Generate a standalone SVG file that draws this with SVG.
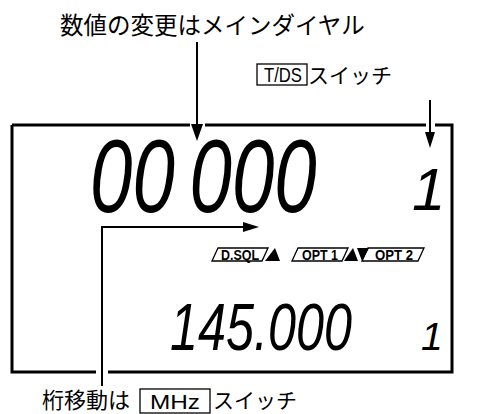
<svg xmlns="http://www.w3.org/2000/svg" width="499" height="414" viewBox="0 0 499 414">
<style>
.jp{font-family:"Noto Sans CJK JP","Noto Sans",sans-serif;fill:#000}
.lat{font-family:"Liberation Sans",Arial,sans-serif;fill:#000}
.seg{font-family:"Liberation Sans",Arial,sans-serif;font-style:italic;font-weight:normal;fill:#000}
.ind{font-family:"Liberation Sans",Arial,sans-serif;font-weight:bold;font-size:14px;fill:#000;text-anchor:middle}
.ln{stroke:#000;fill:none;stroke-width:2}
.frame{stroke:#000;fill:none;stroke-width:3}
.box{stroke:#000;fill:none;stroke-width:1.3}
.tri{fill:#000}
</style>
<rect width="499" height="414" fill="#fff"/>

<g id="display">
  <path class="frame" d="M12 125 H190 M205 125 H426 M435 125 H452 V372 H108 M96 372 H12 V125"/>
</g>

<g id="main-digits">
  <text class="seg" transform="translate(90 212) scale(0.74 1)" font-size="103">00<tspan dx="20">000</tspan></text>
  <text class="seg" x="412" y="210" font-size="60">1</text>
</g>

<g id="indicators">
  <path class="box" d="M212 261 L218 248 L268 248 L262 261 Z"/>
  <text class="ind" x="240" y="260" textLength="38" lengthAdjust="spacingAndGlyphs">D.SQL</text>
  <polygon class="tri" points="265,261 275,248 280,261"/>
  <path class="box" d="M292 261 L298 248 L348 248 L342 261 Z"/>
  <text class="ind" x="320" y="260" textLength="36" lengthAdjust="spacingAndGlyphs">OPT 1</text>
  <polygon class="tri" points="344,261 353,248 358,261"/>
  <polygon class="tri" points="357,248 369,248 362,261"/>
  <path class="box" d="M362 261 L368 248 L424 248 L418 261 Z"/>
  <text class="ind" x="394" y="260" textLength="38" lengthAdjust="spacingAndGlyphs">OPT 2</text>
</g>

<g id="sub-digits">
  <text class="seg" x="170" y="350" font-size="67" textLength="182" lengthAdjust="spacingAndGlyphs">145.000</text>
  <text class="seg" x="421" y="350" font-size="39">1</text>
</g>

<g id="label-dial">
  <text class="jp" x="60" y="34" font-size="23.5">数値の変更はメインダイヤル</text>
</g>

<g id="label-tds">
  <rect class="box" x="257" y="64" width="50" height="21"/>
  <text class="lat" x="283" y="82" font-size="21" text-anchor="middle" textLength="38" lengthAdjust="spacingAndGlyphs">T/DS</text>
  <text class="jp" x="308" y="83" font-size="21">スイッチ</text>
</g>

<g id="label-mhz">
  <text class="jp" x="42" y="408" font-size="22">桁移動は</text>
  <rect class="box" x="140" y="389" width="70" height="24"/>
  <text class="lat" x="175" y="409" font-size="21" text-anchor="middle" textLength="50" lengthAdjust="spacingAndGlyphs">MHz</text>
  <text class="jp" x="213" y="408" font-size="21">スイッチ</text>
</g>

<g id="connectors">
  <line class="ln" x1="197" y1="42" x2="197" y2="126"/>
  <polygon class="tri" points="191,124 203,124 197,141"/>
  <line class="ln" x1="430" y1="100" x2="430" y2="134"/>
  <polygon class="tri" points="425,132 435,132 430,148"/>
  <path class="ln" d="M102 386 V227 H245"/>
  <polygon class="tri" points="243,222 243,232 259,227"/>
</g>
</svg>
